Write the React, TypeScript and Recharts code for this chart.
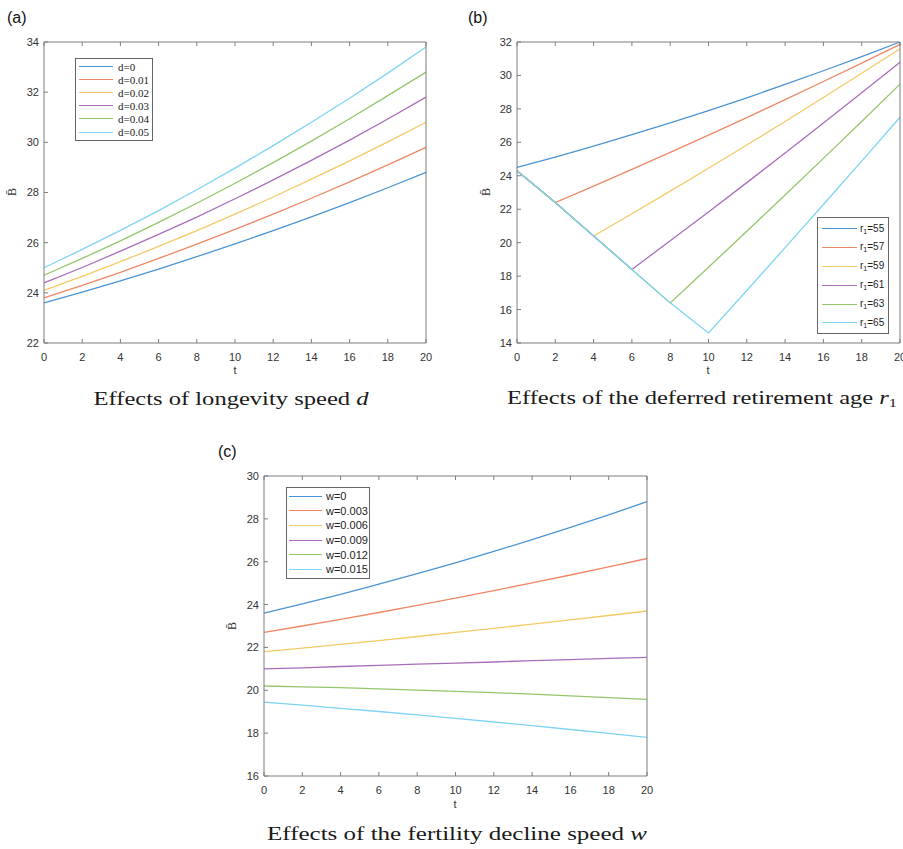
import { LineChart, Line, XAxis, YAxis, Legend } from "recharts";

// shared time axis (years)
const tValues = [0, 2, 4, 6, 8, 10, 12, 14, 16, 18, 20];

// (a) longevity speed d
const dNames = ["d=0", "d=0.01", "d=0.02", "d=0.03", "d=0.04", "d=0.05"];
const dSeries = [
  [23.6, 24.03, 24.48, 24.95, 25.44, 25.95, 26.48, 27.03, 27.6, 28.19, 28.8],
  [23.8, 24.3, 24.82, 25.37, 25.94, 26.53, 27.14, 27.77, 28.42, 29.1, 29.8],
  [24.1, 24.66, 25.24, 25.85, 26.48, 27.14, 27.82, 28.53, 29.26, 30.02, 30.8],
  [24.4, 25.01, 25.66, 26.33, 27.02, 27.75, 28.5, 29.28, 30.09, 30.93, 31.8],
  [24.7, 25.37, 26.07, 26.81, 27.57, 28.37, 29.19, 30.05, 30.94, 31.86, 32.8],
  [25.0, 25.73, 26.49, 27.28, 28.11, 28.97, 29.87, 30.8, 31.76, 32.76, 33.8],
];
const dTicks = [22, 24, 26, 28, 30, 32, 34];

// (b) deferred retirement age r1
const r1Names = ["r1=55", "r1=57", "r1=59", "r1=61", "r1=63", "r1=65"];
const r1Series = [
  [24.5, 25.12, 25.78, 26.46, 27.16, 27.9, 28.66, 29.46, 30.28, 31.12, 32.0],
  [24.3, 22.4, 23.38, 24.38, 25.4, 26.43, 27.48, 28.55, 29.64, 30.74, 31.86],
  [24.3, 22.4, 20.4, 21.73, 23.08, 24.45, 25.84, 27.25, 28.68, 30.13, 31.6],
  [24.3, 22.4, 20.4, 18.4, 20.11, 21.84, 23.59, 25.36, 27.15, 28.96, 30.79],
  [24.3, 22.4, 20.4, 18.4, 16.4, 18.53, 20.68, 22.85, 25.04, 27.25, 29.48],
  [24.3, 22.4, 20.4, 18.4, 16.4, 14.6, 17.14, 19.7, 22.28, 24.88, 27.5],
];
const r1Ticks = [14, 16, 18, 20, 22, 24, 26, 28, 30, 32];

// (c) fertility decline speed w
const wNames = ["w=0", "w=0.003", "w=0.006", "w=0.009", "w=0.012", "w=0.015"];
const wSeries = [
  [23.6, 24.03, 24.48, 24.95, 25.44, 25.95, 26.48, 27.03, 27.6, 28.19, 28.8],
  [22.7, 23.0, 23.31, 23.63, 23.96, 24.3, 24.65, 25.01, 25.38, 25.76, 26.15],
  [21.8, 21.97, 22.14, 22.32, 22.51, 22.7, 22.89, 23.09, 23.29, 23.49, 23.7],
  [21.0, 21.05, 21.11, 21.16, 21.22, 21.27, 21.32, 21.38, 21.43, 21.49, 21.54],
  [20.2, 20.16, 20.12, 20.07, 20.01, 19.95, 19.89, 19.82, 19.74, 19.66, 19.58],
  [19.45, 19.31, 19.16, 19.01, 18.85, 18.69, 18.52, 18.35, 18.17, 17.99, 17.8],
];
const wTicks = [16, 18, 20, 22, 24, 26, 28, 30];

const colors = ["#4a94d4", "#ef8765", "#f5ca66", "#aa6dbb", "#95c66c", "#7dd4f4"];

const AXIS = "#7d7d7d";
const TICK_LEN = 4;
const SANS = "'Liberation Sans', Arial, sans-serif";
const SERIF = "'Liberation Serif', 'Times New Roman', serif";
const tickText = { fontFamily: SANS, fontSize: 11, fill: "#333" };

const BottomTick = (p: any) => (
  <g>
    <line x1={p.x} x2={p.x} y1={p.y} y2={p.y - TICK_LEN} stroke={AXIS} />
    <text x={p.x} y={p.y + 18} textAnchor="middle" {...tickText}>
      {p.payload.value}
    </text>
  </g>
);
const TopTick = (p: any) => (
  <line x1={p.x} x2={p.x} y1={p.y} y2={p.y + TICK_LEN} stroke={AXIS} />
);
const LeftTick = (p: any) => (
  <g>
    <line x1={p.x} x2={p.x + TICK_LEN} y1={p.y} y2={p.y} stroke={AXIS} />
    <text x={p.x - 5} y={p.y} dy="0.36em" textAnchor="end" {...tickText}>
      {p.payload.value}
    </text>
  </g>
);
const RightTick = (p: any) => (
  <line x1={p.x} x2={p.x - TICK_LEN} y1={p.y} y2={p.y} stroke={AXIS} />
);

type LegendSpec = {
  left: number;
  top: number;
  width: number;
  rowH: number;
  lineW: number;
  padLeft: number;
  gap: number;
  font: string;
  fontSize: number;
};

const legendLabel = (v: string) =>
  v.startsWith("r1") ? (
    <span>
      r<sub style={{ fontSize: "0.7em", verticalAlign: "-0.25em" }}>1</sub>
      {v.slice(2)}
    </span>
  ) : (
    v
  );

const BoxLegend = ({ payload, spec }: any) => {
  const s: LegendSpec = spec;
  return (
    <div
      style={{
        width: s.width,
        boxSizing: "border-box",
        border: "1px solid #666",
        background: "#fff",
        padding: `1px 0 1px ${s.padLeft}px`,
        fontFamily: s.font,
        fontSize: s.fontSize,
        color: "#222",
      }}
    >
      {(payload || []).map((e: any) => (
        <div
          key={e.value}
          style={{ display: "flex", alignItems: "center", height: s.rowH, whiteSpace: "nowrap" }}
        >
          <span
            style={{
              display: "inline-block",
              width: s.lineW,
              borderTop: `1.3px solid ${e.color}`,
              marginRight: s.gap,
            }}
          />
          {legendLabel(e.value)}
        </div>
      ))}
    </div>
  );
};

type PanelProps = {
  left: number;
  top: number;
  width: number;
  height: number;
  plot: { x0: number; x1: number; y0: number; y1: number };
  yDomain: [number, number];
  yTicks: number[];
  names: string[];
  series: number[][];
  legend: LegendSpec;
};

const Y_W = 30;
const X_H = 20;

const Panel = ({ left, top, width, height, plot, yDomain, yTicks, names, series, legend }: PanelProps) => {
  const rows = tValues.map((t, i) => {
    const row: Record<string, number> = { t };
    series.forEach((s, k) => (row[`s${k}`] = s[i]));
    return row;
  });
  const margin = {
    left: plot.x0 - left - Y_W,
    right: left + width - plot.x1 - 1,
    top: plot.y0 - top - 1,
    bottom: top + height - plot.y1 - X_H,
  };
  return (
    <div style={{ position: "absolute", left, top, width, height }}>
      <LineChart width={width} height={height} data={rows} margin={margin}>
        <XAxis
          dataKey="t"
          type="number"
          domain={[0, 20]}
          ticks={tValues}
          interval={0}
          height={X_H}
          tickSize={0}
          tickMargin={0}
          tickLine={false}
          stroke={AXIS}
          tick={<BottomTick />}
        />
        <XAxis
          xAxisId="top"
          orientation="top"
          dataKey="t"
          type="number"
          domain={[0, 20]}
          ticks={tValues}
          interval={0}
          height={1}
          tickSize={0}
          tickMargin={0}
          tickLine={false}
          stroke={AXIS}
          tick={<TopTick />}
        />
        <YAxis
          type="number"
          domain={yDomain}
          ticks={yTicks}
          interval={0}
          width={Y_W}
          tickSize={0}
          tickMargin={0}
          tickLine={false}
          stroke={AXIS}
          tick={<LeftTick />}
        />
        <YAxis
          yAxisId="right"
          orientation="right"
          type="number"
          domain={yDomain}
          ticks={yTicks}
          interval={0}
          width={1}
          tickSize={0}
          tickMargin={0}
          tickLine={false}
          stroke={AXIS}
          tick={<RightTick />}
        />
        {names.map((n, k) => (
          <Line
            key={n}
            type="linear"
            dataKey={`s${k}`}
            name={n}
            stroke={colors[k]}
            strokeWidth={1.3}
            dot={false}
            activeDot={false}
            isAnimationActive={false}
          />
        ))}
        <Legend
          layout="vertical"
          align="center"
          verticalAlign="middle"
          wrapperStyle={{ left: legend.left - left, top: legend.top - top, width: legend.width, height: "auto" }}
          content={(props: any) => <BoxLegend payload={props.payload} spec={legend} />}
        />
      </LineChart>
    </div>
  );
};

const Caption = ({ cx, y, width, children }: any) => (
  <text
    x={cx}
    y={y}
    textAnchor="middle"
    fontFamily={SERIF}
    fontSize={18}
    fill="#1a1a1a"
    textLength={width}
    lengthAdjust="spacingAndGlyphs"
  >
    {children}
  </text>
);

const YLabel = ({ x, y }: any) => (
  <text
    x={x}
    y={y}
    transform={`rotate(-90 ${x} ${y})`}
    textAnchor="middle"
    dy="0.35em"
    fontFamily={SERIF}
    fontSize={12}
    fill="#333"
  >
    B̄
  </text>
);

const App = () => (
  <div style={{ position: "absolute", left: 0, top: 0, width: 903, height: 849, background: "#fff", overflow: "hidden" }}>
    <Panel
      left={0}
      top={0}
      width={450}
      height={380}
      plot={{ x0: 44, x1: 426, y0: 42, y1: 343 }}
      yDomain={[22, 34]}
      yTicks={dTicks}
      names={dNames}
      series={dSeries}
      legend={{ left: 75, top: 58, width: 78, rowH: 13.1, lineW: 34, padLeft: 3, gap: 5, font: SERIF, fontSize: 11 }}
    />
    <Panel
      left={460}
      top={0}
      width={443}
      height={380}
      plot={{ x0: 517, x1: 900, y0: 42, y1: 343 }}
      yDomain={[14, 32]}
      yTicks={r1Ticks}
      names={r1Names}
      series={r1Series}
      legend={{ left: 817, top: 217, width: 72, rowH: 18.9, lineW: 35, padLeft: 4, gap: 3, font: SANS, fontSize: 10 }}
    />
    <Panel
      left={200}
      top={440}
      width={460}
      height={370}
      plot={{ x0: 264, x1: 647, y0: 476, y1: 776 }}
      yDomain={[16, 30]}
      yTicks={wTicks}
      names={wNames}
      series={wSeries}
      legend={{ left: 286, top: 487, width: 84, rowH: 14.6, lineW: 33, padLeft: 2, gap: 4, font: SANS, fontSize: 11 }}
    />
    <svg width={903} height={849} style={{ position: "absolute", left: 0, top: 0, pointerEvents: "none" }}>
      <g fontFamily={SANS} fontSize={16} fill="#111">
        <text x={7} y={23}>(a)</text>
        <text x={468} y={23}>(b)</text>
        <text x={218} y={457}>(c)</text>
      </g>
      <g fontFamily={SANS} fontSize={11} fill="#333" textAnchor="middle">
        <text x={235} y={374}>t</text>
        <text x={708} y={374}>t</text>
        <text x={455} y={808}>t</text>
      </g>
      <YLabel x={12} y={192} />
      <YLabel x={486} y={192} />
      <YLabel x={232} y={626} />
      <Caption cx={231} y={405} width={275}>
        Effects of longevity speed <tspan fontStyle="italic">d</tspan>
      </Caption>
      <Caption cx={702} y={404} width={390}>
        Effects of the deferred retirement age <tspan fontStyle="italic">r</tspan>
        <tspan fontSize={12} dy={3}>1</tspan>
      </Caption>
      <Caption cx={457} y={840} width={380}>
        Effects of the fertility decline speed <tspan fontStyle="italic">w</tspan>
      </Caption>
    </svg>
  </div>
);

export default App;
